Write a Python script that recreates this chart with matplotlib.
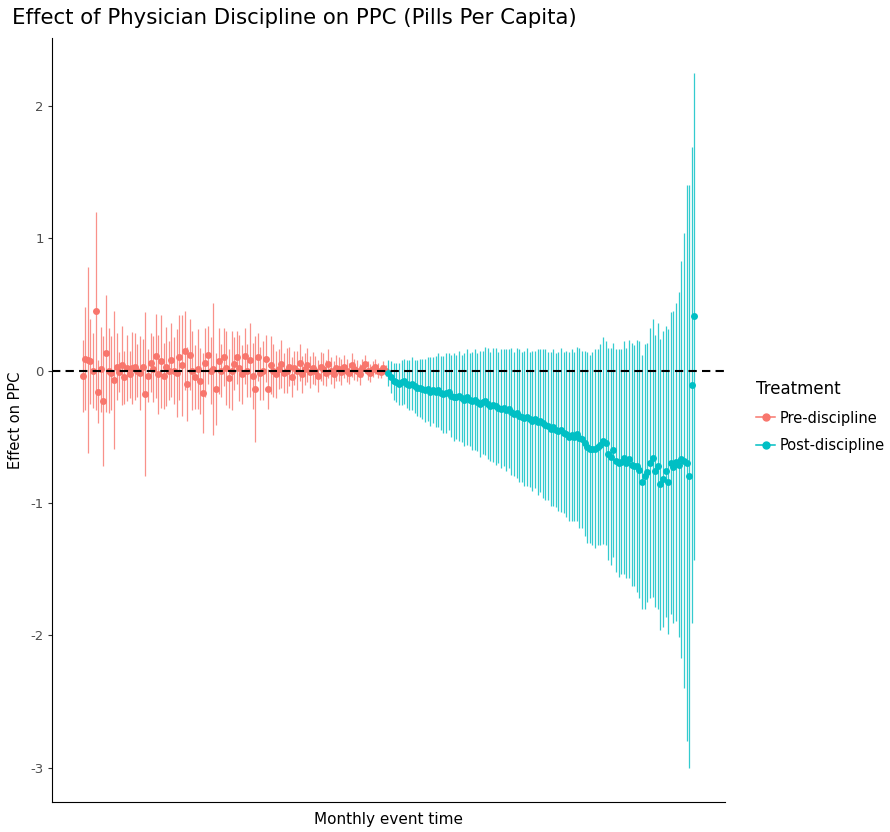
import numpy as np
import matplotlib
matplotlib.use("Agg")
import matplotlib.pyplot as plt
from matplotlib.lines import Line2D
from matplotlib.colors import to_rgba

plt.rcParams['font.family'] = ['DejaVu Sans']

# estimates and half-width of the confidence intervals
pre_est = [-0.04, 0.09, 0.08, 0.07, 0.00, 0.45, -0.16, 0.01, -0.23, 0.13,
           0.00, -0.02, -0.07, 0.03, -0.01, 0.04, -0.05, 0.02, -0.03, 0.02,
           0.03, 0.00, -0.02, 0.03, -0.18, -0.04, 0.06, 0.01, 0.11, -0.03,
           0.07, -0.04, 0.03, 0.00, 0.08, 0.00, -0.02, 0.10, 0.04, 0.15,
           -0.10, 0.12, 0.00, -0.05, 0.01, -0.08, -0.17, 0.06, 0.12, 0.00,
           0.01, -0.14, 0.07, 0.00, 0.10, 0.02, -0.06, 0.00, 0.05, 0.10,
           0.02, -0.03, 0.11, 0.00, 0.08, -0.04, -0.14, 0.10, -0.02, 0.00,
           0.09, -0.14, 0.04, 0.00, -0.03, 0.01, 0.05, -0.02, 0.00, 0.03,
           -0.05, 0.02, 0.00, 0.06, -0.03, 0.01, 0.04, -0.01, 0.02, 0.00,
           -0.04, 0.03, 0.01, -0.02, 0.05, 0.00, -0.03, 0.02, 0.01, -0.01,
           0.03, 0.00, -0.02, 0.04, 0.01, 0.00, -0.03, 0.02, 0.05, 0.00,
           -0.02, 0.01, 0.03, 0.00, -0.01, 0.02, 0.00]
pre_ci = [0.27, 0.39, 0.70, 0.32, 0.28, 0.75, 0.24, 0.32, 0.49, 0.44,
          0.32, 0.28, 0.52, 0.25, 0.15, 0.30, 0.20, 0.25, 0.18, 0.27,
          0.25, 0.20, 0.28, 0.21, 0.62, 0.20, 0.22, 0.25, 0.32, 0.30,
          0.35, 0.25, 0.30, 0.22, 0.28, 0.25, 0.33, 0.32, 0.38, 0.30,
          0.28, 0.27, 0.30, 0.24, 0.30, 0.25, 0.30, 0.26, 0.22, 0.25,
          0.50, 0.27, 0.25, 0.20, 0.22, 0.28, 0.22, 0.30, 0.20, 0.20,
          0.25, 0.22, 0.21, 0.20, 0.28, 0.25, 0.40, 0.18, 0.20, 0.22,
          0.18, 0.15, 0.22, 0.20, 0.18, 0.15, 0.18, 0.15, 0.17, 0.15,
          0.15, 0.13, 0.15, 0.14, 0.14, 0.12, 0.13, 0.12, 0.12, 0.11,
          0.12, 0.11, 0.12, 0.10, 0.11, 0.10, 0.10, 0.10, 0.09, 0.10,
          0.09, 0.09, 0.08, 0.09, 0.08, 0.08, 0.08, 0.07, 0.07, 0.07,
          0.07, 0.06, 0.06, 0.06, 0.05, 0.05, 0.04]

post_est = [-0.02, -0.05, -0.08, -0.09, -0.10, -0.09, -0.08, -0.10, -0.11, -0.10,
            -0.12, -0.13, -0.13, -0.14, -0.15, -0.14, -0.16, -0.15, -0.16, -0.15,
            -0.17, -0.18, -0.17, -0.16, -0.19, -0.20, -0.20, -0.19, -0.21, -0.22,
            -0.20, -0.22, -0.23, -0.22, -0.24, -0.25, -0.24, -0.23, -0.25, -0.27,
            -0.26, -0.27, -0.28, -0.29, -0.28, -0.30, -0.29, -0.31, -0.33, -0.32,
            -0.34, -0.35, -0.36, -0.35, -0.37, -0.38, -0.37, -0.39, -0.38, -0.40,
            -0.41, -0.42, -0.44, -0.43, -0.45, -0.46, -0.45, -0.47, -0.48, -0.50,
            -0.49, -0.50, -0.48, -0.51, -0.52, -0.55, -0.58, -0.59, -0.59, -0.59,
            -0.58, -0.56, -0.53, -0.55, -0.63, -0.65, -0.60, -0.68, -0.70, -0.69,
            -0.66, -0.70, -0.67, -0.71, -0.72, -0.72, -0.75, -0.84, -0.80, -0.77,
            -0.70, -0.66, -0.76, -0.72, -0.86, -0.82, -0.76, -0.84, -0.70, -0.73,
            -0.69, -0.71, -0.67, -0.68, -0.70, -0.80, -0.11, 0.41]
post_ci = [0.10, 0.12, 0.14, 0.15, 0.16, 0.17, 0.17, 0.18, 0.19, 0.20,
           0.20, 0.21, 0.22, 0.23, 0.24, 0.24, 0.26, 0.25, 0.27, 0.28,
           0.28, 0.29, 0.30, 0.29, 0.31, 0.33, 0.32, 0.34, 0.33, 0.35,
           0.36, 0.35, 0.37, 0.38, 0.37, 0.40, 0.39, 0.41, 0.42, 0.41,
           0.43, 0.44, 0.42, 0.45, 0.44, 0.46, 0.45, 0.48, 0.47, 0.49,
           0.50, 0.49, 0.51, 0.52, 0.51, 0.53, 0.52, 0.55, 0.54, 0.56,
           0.57, 0.56, 0.58, 0.59, 0.58, 0.60, 0.62, 0.61, 0.63, 0.64,
           0.65, 0.64, 0.66, 0.68, 0.67, 0.70, 0.72, 0.71, 0.73, 0.75,
           0.74, 0.76, 0.78, 0.77, 0.80, 0.82, 0.81, 0.84, 0.86, 0.85,
           0.88, 0.87, 0.90, 0.92, 0.91, 0.95, 0.97, 0.96, 1.00, 0.98,
           1.02, 1.05, 1.03, 1.08, 1.10, 1.12, 1.10, 1.15, 1.14, 1.18,
           1.20, 1.30, 1.50, 1.72, 2.10, 2.20, 1.80, 1.84]

pre_x = np.arange(-len(pre_est), 0)
post_x = np.arange(0, len(post_est))

pre_col = "#F8766D"
post_col = "#00BFC4"

fig = plt.figure(figsize=(8.9, 8.32), dpi=100)
ax = fig.add_axes([0.0584, 0.036, 0.7562, 0.918])

for xs, est, ci, col in [(pre_x, pre_est, pre_ci, pre_col), (post_x, post_est, post_ci, post_col)]:
    ax.errorbar(xs, est, yerr=ci, fmt='none', ecolor=to_rgba(col, 0.8), elinewidth=0.9, capsize=0)
    ax.plot(xs, est, 'o', color=col, markersize=5, markeredgewidth=0)

ax.axhline(0, color='black', lw=1.5, dashes=(4, 2.5))

xmin, xmax = pre_x[0], post_x[-1]
pad = (xmax - xmin) * 0.05
ax.set_xlim(xmin - pad, xmax + pad)
ax.set_ylim(-3.26, 2.51)
ax.set_xticks([])
ax.set_yticks([-3, -2, -1, 0, 1, 2])
ax.set_yticklabels(["-3", "-2", "-1", "0", "1", "2"])
ax.tick_params(axis='y', length=3, width=0.8, color='#333333', labelcolor='#4D4D4D', labelsize=9.5, pad=3)
for s in ['top', 'right']:
    ax.spines[s].set_visible(False)
for s in ['left', 'bottom']:
    ax.spines[s].set_linewidth(0.8)
    ax.spines[s].set_color('black')

ax.set_ylabel("Effect on PPC", fontsize=10.5, labelpad=5)
ax.set_xlabel("Monthly event time", fontsize=11, labelpad=7)

fig.text(12 / 890, 1 - 18 / 832, "Effect of Physician Discipline on PPC (Pills Per Capita)",
         fontsize=15.3, ha='left', va='center')

handles = [Line2D([], [], color=pre_col, marker='o', markersize=5, lw=1.1),
           Line2D([], [], color=post_col, marker='o', markersize=5, lw=1.1)]
leg = fig.legend(handles, ["Pre-discipline", "Post-discipline"], title="Treatment",
                 loc='upper left', bbox_to_anchor=(743 / 890, 1 - 367 / 832), frameon=False,
                 fontsize=10.5, title_fontsize=12, handlelength=1.3, handletextpad=0.3,
                 labelspacing=0.85, alignment='left')

fig.savefig("out.png", dpi=100)
